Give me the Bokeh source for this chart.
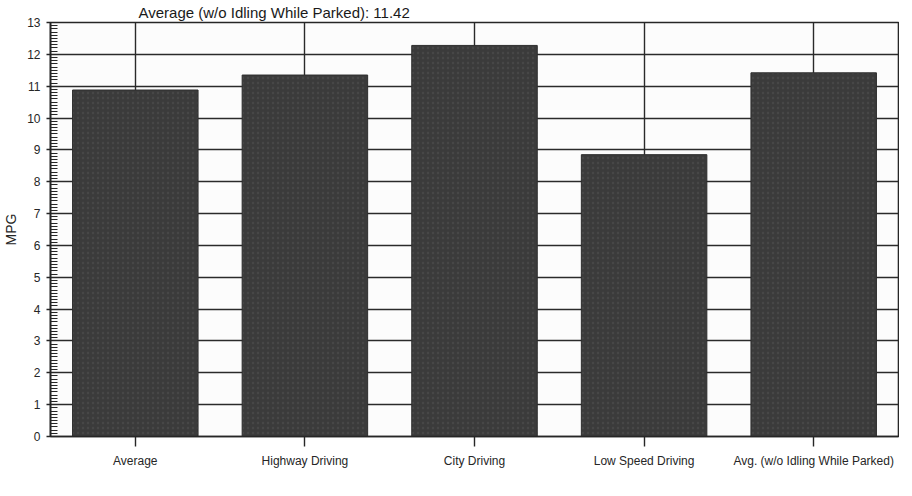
from bokeh.plotting import figure
from bokeh.models import SingleIntervalTicker, Range1d, ColumnDataSource
from bokeh.embed import file_html
from bokeh.resources import INLINE

# ---- data ----
categories = ["Average", "Highway Driving", "City Driving",
              "Low Speed Driving", "Avg. (w/o Idling While Parked)"]
mpg = [10.88, 11.35, 12.28, 8.85, 11.42]
title_text = "Average (w/o Idling While Parked): 11.42"
y_label = "MPG"

FONT = "Liberation Sans"
INK = "#262626"

p = figure(x_range=categories, y_range=Range1d(0, 13),
           frame_width=848, frame_height=414,
           min_border_left=47, min_border_top=0, min_border_right=1,
           min_border_bottom=0,
           output_backend="svg", toolbar_location=None)

p.background_fill_color = "#fcfcfc"
p.border_fill_color = "white"
p.outline_line_color = INK
p.outline_line_width = 1.6

# title
p.title.text = title_text
p.title.text_font = FONT
p.title.text_font_size = "15px"
p.title.text_font_style = "normal"
p.title.text_color = "#1a1a1a"
p.title.align = "left"
p.title.offset = 88
p.title.standoff = 3

src = ColumnDataSource(dict(cat=categories, mpg=mpg))
p.vbar(x="cat", top="mpg", width=0.74, source=src,
       fill_color="#3b3b3b", line_color="#2e2e2e", line_width=1,
       hatch_pattern="dot", hatch_color="#575757", hatch_scale=5,
       hatch_alpha=0.45)

# y axis
ya = p.yaxis[0]
ya.ticker = SingleIntervalTicker(interval=1, num_minor_ticks=10)
ya.axis_label = y_label
ya.axis_label_text_font = FONT
ya.axis_label_text_font_style = "normal"
ya.axis_label_text_font_size = "14px"
ya.axis_label_text_color = INK
ya.axis_label_standoff = 5
ya.major_label_text_font = FONT
ya.major_label_text_font_size = "12px"
ya.major_label_text_color = INK
ya.major_label_standoff = 6
ya.major_tick_in = 0
ya.major_tick_out = 4
ya.minor_tick_in = 7
ya.minor_tick_out = 0
ya.axis_line_color = INK
ya.axis_line_width = 1.6
ya.major_tick_line_color = INK
ya.major_tick_line_width = 1.4
ya.minor_tick_line_color = INK
ya.minor_tick_line_width = 1.2

# x axis
xa = p.xaxis[0]
xa.major_label_text_font = FONT
xa.major_label_text_font_size = "12px"
xa.major_label_text_color = INK
xa.major_label_orientation = "horizontal"
xa.major_label_standoff = 7
xa.major_tick_in = 0
xa.major_tick_out = 10
xa.major_tick_line_color = INK
xa.major_tick_line_width = 1.4
xa.axis_line_color = INK
xa.axis_line_width = 1.6

# grids
p.ygrid.grid_line_color = "#2a2a2a"
p.ygrid.grid_line_width = 1.6
p.xgrid.grid_line_color = "#2a2a2a"
p.xgrid.grid_line_width = 1.4

open("out.html", "w").write(file_html(p, INLINE))
